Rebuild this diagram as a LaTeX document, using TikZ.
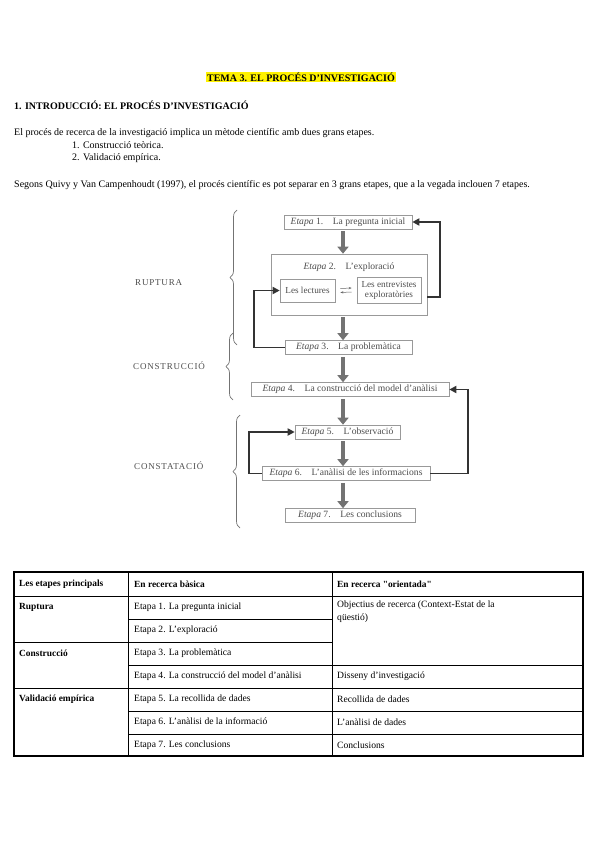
\documentclass[tikz,border=0pt]{standalone}
\usepackage{fontspec}
\setmainfont{Liberation Serif}
\newfontfamily\recta{Liberation Serif}[Ligatures=TeXOff]
\usetikzlibrary{arrows.meta,decorations.pathreplacing}

\begin{document}
\begin{tikzpicture}[x=1pt, y=-1pt,
		txt/.style={anchor=west, inner sep=0pt, font=\fontsize{10}{12}\selectfont},
		cel/.style={anchor=west, inner sep=0pt, font=\fontsize{9.6}{13}\selectfont},
		negreta/.style={cel, font=\fontsize{9.4}{13}\selectfont\bfseries},
		etapa/.style={draw=black!40, line width=0.6pt, text=black!70, inner sep=2pt,
			minimum height=14pt, font=\fontsize{9.6}{11}\selectfont},
		caixa/.style={draw=black!40, line width=0.6pt, text=black!70, align=center,
			font=\fontsize{9.2}{10}\selectfont},
		fase/.style={text=black!70, inner sep=0pt, anchor=west, font=\fontsize{9}{11}\selectfont\addfontfeature{LetterSpace=9}},
		baixa/.style={-{Triangle[length=7pt,width=11pt]}, line width=4.5pt, black!55, shorten <=2pt},
		torna/.style={-{Triangle[length=7pt,width=7pt]}, line width=1.8pt, black!80},
		doble/.style={-{Stealth[length=3pt]}, black!60, line width=0.5pt},
		clau/.style={decorate, decoration={brace, amplitude=7pt}, black!55, line width=0.7pt}]
	\useasboundingbox (0,0) rectangle (600,848);
	
	% capcalera
	\node[fill=yellow, inner sep=1pt, font=\fontsize{10}{12}\selectfont\bfseries] (titol) at (301,77) {TEMA 3. EL PROCÉS D'INVESTIGACIÓ};
	\node[txt, font=\fontsize{10}{12}\selectfont\bfseries] (apartat) at (14,105) {1. INTRODUCCIÓ: EL PROCÉS D'INVESTIGACIÓ};
	\node[txt] (par1) at (14,133) {El procés de recerca de la investigació implica un mètode científic amb dues grans etapes.};
	\node[txt] (punt1) at (72,145.5) {1. Construcció teòrica.};
	\node[txt] (punt2) at (72,158) {2. Validació empírica.};
	\node[txt] (par2) at (14,185) {Segons Quivy y Van Campenhoudt (1997), el procés científic es pot separar en 3 grans etapes, que a la vegada inclouen 7 etapes.};
	
	% esquema de les 7 etapes
	\node[etapa, minimum width=128pt] (e1) at (348,222) {\textit{Etapa} 1.\quad La pregunta inicial};
	\node[draw=black!40, line width=0.6pt, minimum width=156pt, minimum height=61pt] (e2) at (349,284.5) {};
	\node[text=black!70, font=\fontsize{9.6}{11}\selectfont] (e2t) at (349,267) {\textit{Etapa} 2.\quad L'exploració};
	\node[caixa, minimum width=55pt, minimum height=23pt] (lect) at (307.5,290.5) {Les lectures};
	\node[caixa, minimum width=64pt, minimum height=26pt, inner sep=1pt] (entr) at (389,290) {Les entrevistes\\exploratòries};
	\node[etapa, minimum width=127pt] (e3) at (348.5,347.5) {\textit{Etapa} 3.\quad La problemàtica};
	\node[etapa, minimum width=198pt] (e4) at (350,389.5) {\textit{Etapa} 4.\quad La construcció del model d'anàlisi};
	\node[etapa, minimum width=105pt] (e5) at (347.5,432) {\textit{Etapa} 5.\quad L'observació};
	\node[etapa, minimum width=168pt] (e6) at (346,473.5) {\textit{Etapa} 6.\quad L'anàlisi de les informacions};
	\node[etapa, minimum width=130pt] (e7) at (350,515.5) {\textit{Etapa} 7.\quad Les conclusions};
	
	% fletxes cap avall
	\draw[baixa] (e1.south -| 343,0) -- (e2.north -| 343,0);
	\draw[baixa] (e2.south -| 343,0) -- (e3.north -| 343,0);
	\draw[baixa] (e3.south -| 343,0) -- (e4.north -| 343,0);
	\draw[baixa] (e4.south -| 343,0) -- (e5.north -| 343,0);
	\draw[baixa] (e5.south -| 343,0) -- (e6.north -| 343,0);
	\draw[baixa] (e6.south -| 343,0) -- (e7.north -| 343,0);
	
	% lectures <-> entrevistes
	\draw[doble] ([xshift=5pt,yshift=2pt]lect.east) -- ([xshift=-5pt,yshift=2pt]entr.west);
	\draw[doble] ([xshift=-5pt,yshift=-2pt]entr.west) -- ([xshift=5pt,yshift=-2pt]lect.east);
	
	% retroaccions
	\draw[torna] ([yshift=-12.5pt]e2.east) -- ++(13,0) |- (e1.east);
	\draw[torna] (e3.west) -- ++(-31,0) |- (lect.west);
	\draw[torna] (e6.west) -- ++(-13,0) |- (e5.west);
	\draw[torna] (e6.east) -- ++(38,0) |- (e4.east);
	
	% les tres fases
	\draw[clau] (237,345) -- (237,210);
	\draw[clau] (233,400) -- (233,333);
	\draw[clau] (240,528) -- (240,415);
	\node[fase] (ruptura) at (135,283) {RUPTURA};
	\node[fase] (construccio) at (133,366) {CONSTRUCCIÓ};
	\node[fase] (constatacio) at (134,466) {CONSTATACIÓ};
	
	% taula
	\draw[line width=1.1pt] (14,572) rectangle (583,756);
	\draw[line width=0.8pt] (128,572) -- (128,756) (332,572) -- (332,756);
	\draw[line width=0.8pt] (14,596) -- (583,596) (14,688) -- (583,688);
	\draw[line width=0.8pt] (128,619) -- (332,619) (14,642) -- (332,642);
	\draw[line width=0.8pt] (128,665) -- (583,665) (128,711) -- (583,711) (128,734) -- (583,734);
	
	\node[negreta] (h1) at (19,584) {Les etapes principals};
	\node[negreta] (h2) at (134,584) {En recerca bàsica};
	\node[negreta, font=\fontsize{9.4}{13}\recta\bfseries] (h3) at (337,584) {En recerca "orientada"};
	
	\node[negreta] (f1) at (19,607) {Ruptura};
	\node[negreta] (f2) at (19,653) {Construcció};
	\node[negreta] (f3) at (19,699) {Validació empírica};
	
	\node[cel] (b1) at (134,607) {Etapa 1. La pregunta inicial};
	\node[cel] (b2) at (134,630) {Etapa 2. L'exploració};
	\node[cel] (b3) at (134,653) {Etapa 3. La problemàtica};
	\node[cel] (b4) at (134,676) {Etapa 4. La construcció del model d'anàlisi};
	\node[cel] (b5) at (134,699) {Etapa 5. La recollida de dades};
	\node[cel] (b6) at (134,722) {Etapa 6. L'anàlisi de la informació};
	\node[cel] (b7) at (134,745) {Etapa 7. Les conclusions};
	
	\node[cel, anchor=north west, align=left] (o1) at (337,601) {Objectius de recerca (Context-Estat de la\\qüestió)};
	\node[cel] (o4) at (337,676) {Disseny d'investigació};
	\node[cel] (o5) at (337,699) {Recollida de dades};
	\node[cel] (o6) at (337,722) {L'anàlisi de dades};
	\node[cel] (o7) at (337,745) {Conclusions};
\end{tikzpicture}
\end{document}
